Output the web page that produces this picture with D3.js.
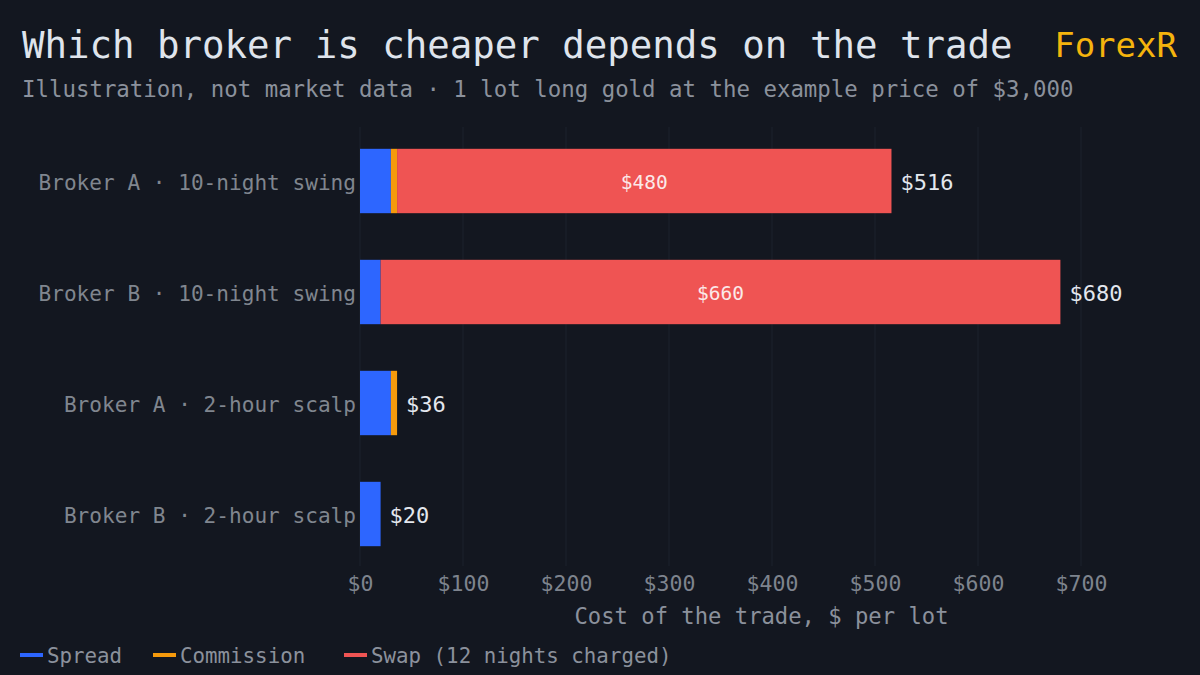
<!DOCTYPE html>
<html>
<head>
<meta charset="utf-8">
<script src="https://cdn.jsdelivr.net/npm/d3@7"></script>
<style>
  html, body { margin: 0; padding: 0; background: #131720; }
  svg { display: block; }
</style>
</head>
<body>
<div id="container"></div>
<script>
// Broker cost comparison — stacked horizontal bars, dark theme

// ---------------------------------------------------------------------------
// Data
// ---------------------------------------------------------------------------
const categories = [
  'Broker A · 10-night swing',
  'Broker B · 10-night swing',
  'Broker A · 2-hour scalp',
  'Broker B · 2-hour scalp',
];
const spread     = [30, 20, 30, 20];
const commission = [6, 0, 6, 0];
const swap       = [480, 660, 0, 0];

const seriesNames = ['Spread', 'Commission', 'Swap (12 nights charged)'];
const tickValues  = [0, 100, 200, 300, 400, 500, 600, 700];

// ---------------------------------------------------------------------------
// Layout / style
// ---------------------------------------------------------------------------
const W = 1200, H = 675;
const FONT = "'DejaVu Sans Mono', 'Liberation Mono', monospace";
const colors = ['#2d66ff', '#f59a0c', '#ef5453'];

const svg = d3.select('#container').append('svg')
  .attr('width', W)
  .attr('height', H);

svg.append('rect').attr('width', W).attr('height', H).attr('fill', '#131720');

// ── Titles ────────────────────────────────────────────────────────────────
svg.append('text')
  .attr('x', 22).attr('y', 58)
  .attr('fill', '#dfe4ec')
  .attr('font-family', FONT)
  .attr('font-size', '37.4px')
  .text('Which broker is cheaper depends on the trade');

svg.append('text')
  .attr('x', 1177).attr('y', 57)
  .attr('text-anchor', 'end')
  .attr('fill', '#f5b40d')
  .attr('font-family', FONT)
  .attr('font-size', '34px')
  .text('ForexR');

svg.append('text')
  .attr('x', 22).attr('y', 97)
  .attr('fill', '#8b919c')
  .attr('font-family', FONT)
  .attr('font-size', '22.4px')
  .text('Illustration, not market data · 1 lot long gold at the example price of $3,000');

// ── Scales ────────────────────────────────────────────────────────────────
const x = d3.scaleLinear().domain([0, 700]).range([360, 1081]);
const y = d3.scaleBand().domain(categories)
  .range([125.5, 569.5])
  .paddingInner(0.42)
  .paddingOuter(0.21);

// gridlines
svg.append('g')
  .selectAll('line')
  .data(tickValues)
  .join('line')
  .attr('x1', d => x(d)).attr('x2', d => x(d))
  .attr('y1', 127).attr('y2', 566)
  .attr('stroke', '#1d222d')
  .attr('stroke-width', 1);

// ── Stacked bars ──────────────────────────────────────────────────────────
const rows = categories.map((c, i) => ({
  cat: c, spread: spread[i], commission: commission[i], swap: swap[i],
}));
const stack = d3.stack().keys(['spread', 'commission', 'swap']);
const layers = stack(rows);

svg.append('g')
  .selectAll('g')
  .data(layers)
  .join('g')
  .attr('fill', (d, i) => colors[i])
  .selectAll('rect')
  .data(d => d.filter(s => s[1] > s[0]))
  .join('rect')
  .attr('x', d => x(d[0]))
  .attr('y', d => y(d.data.cat))
  .attr('width', d => x(d[1]) - x(d[0]))
  .attr('height', y.bandwidth());

// swap labels inside bars
svg.append('g')
  .selectAll('text')
  .data(rows.filter(r => r.swap > 0))
  .join('text')
  .attr('x', r => x(r.spread + r.commission + r.swap / 2))
  .attr('y', r => y(r.cat) + y.bandwidth() / 2 + 1)
  .attr('dy', '0.35em')
  .attr('text-anchor', 'middle')
  .attr('fill', '#fbe9e9')
  .attr('font-family', FONT)
  .attr('font-size', '19.5px')
  .text(r => `$${r.swap}`);

// totals
svg.append('g')
  .selectAll('text')
  .data(rows)
  .join('text')
  .attr('x', r => x(r.spread + r.commission + r.swap) + 9)
  .attr('y', r => y(r.cat) + y.bandwidth() / 2 + 1)
  .attr('dy', '0.35em')
  .attr('fill', '#e3e7ee')
  .attr('font-family', FONT)
  .attr('font-size', '22px')
  .text(r => `$${r.spread + r.commission + r.swap}`);

// ── Y axis labels ─────────────────────────────────────────────────────────
const yAxis = svg.append('g')
  .attr('transform', 'translate(360,2)')
  .call(d3.axisLeft(y).tickSize(0).tickPadding(4));
yAxis.select('.domain').remove();
yAxis.selectAll('text')
  .attr('fill', '#80868f')
  .attr('font-family', FONT)
  .attr('font-size', '21.1px');

// ── X axis ────────────────────────────────────────────────────────────────
const xAxis = svg.append('g')
  .attr('transform', 'translate(0,568)')
  .call(d3.axisBottom(x).tickValues(tickValues).tickSize(0).tickPadding(8)
    .tickFormat(d => `$${d}`));
xAxis.select('.domain').remove();
xAxis.selectAll('text')
  .attr('fill', '#7e848e')
  .attr('font-family', FONT)
  .attr('font-size', '21.5px');

svg.append('text')
  .attr('x', (x(0) + x(700)) / 2 + 41).attr('y', 624)
  .attr('text-anchor', 'middle')
  .attr('fill', '#8b919c')
  .attr('font-family', FONT)
  .attr('font-size', '22.2px')
  .text('Cost of the trade, $ per lot');

// ── Legend ────────────────────────────────────────────────────────────────
const legendX = [20, 153, 344];
const legend = svg.append('g')
  .selectAll('g')
  .data(seriesNames)
  .join('g')
  .attr('transform', (d, i) => `translate(${legendX[i]},655)`);

legend.append('rect')
  .attr('x', 0).attr('y', -2)
  .attr('width', 23).attr('height', 4)
  .attr('fill', (d, i) => colors[i]);

legend.append('text')
  .attr('x', 27).attr('y', 1)
  .attr('dy', '0.35em')
  .attr('fill', '#8b919c')
  .attr('font-family', FONT)
  .attr('font-size', '20.8px')
  .text(d => d);
</script>
</body>
</html>
